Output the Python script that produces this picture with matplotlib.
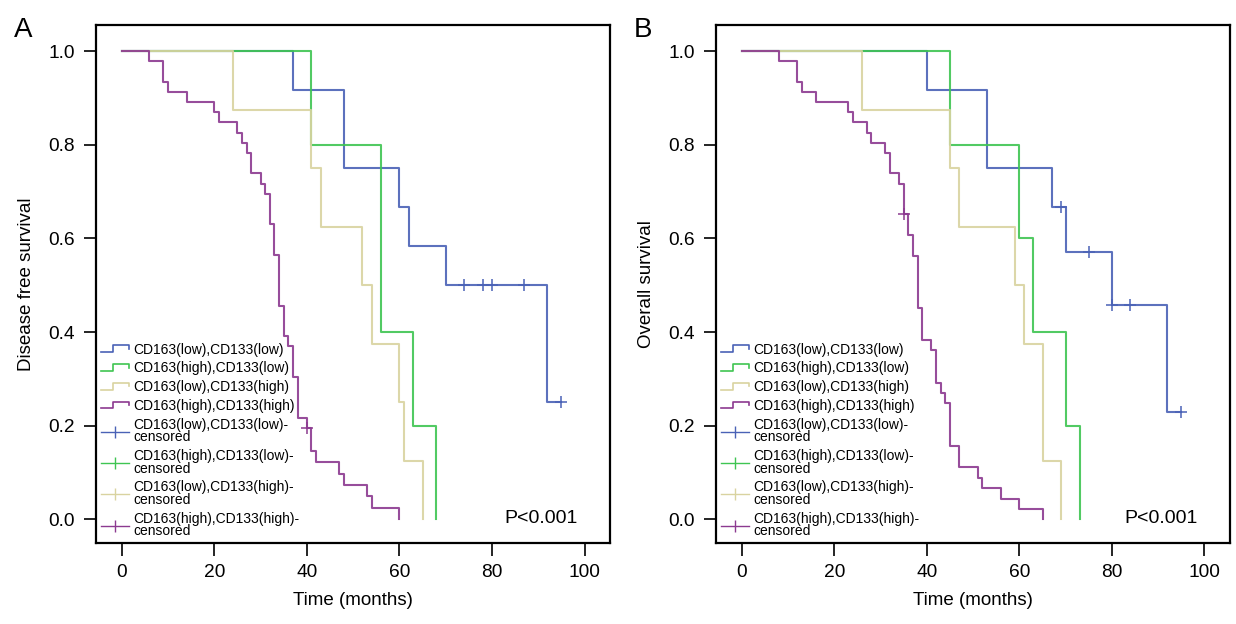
import numpy as np
import matplotlib
matplotlib.use("Agg")
import matplotlib.pyplot as plt
from matplotlib.lines import Line2D
from matplotlib.legend_handler import HandlerBase

plt.rcParams['font.family'] = ['Liberation Sans', 'DejaVu Sans']

# ---------------- data ----------------
# Panel A: disease free survival (event times in months, survival after each step)
dfs_low_low_t = [0, 37, 48, 60, 62, 70, 92]
dfs_low_low_s = [1.0, 0.917, 0.75, 0.667, 0.583, 0.50, 0.25]
dfs_low_low_c = [74, 78, 80, 87, 95]

dfs_high_low_t = [0, 41, 56, 63, 68]
dfs_high_low_s = [1.0, 0.80, 0.40, 0.20, 0.0]
dfs_high_low_c = []

dfs_low_high_t = [0, 24, 41, 43, 52, 54, 60, 61, 65]
dfs_low_high_s = [1.0, 0.875, 0.75, 0.625, 0.50, 0.375, 0.25, 0.125, 0.0]
dfs_low_high_c = []

dfs_high_high_t = [0, 6, 9, 10, 14, 20, 21, 25, 26, 27, 28, 30, 31, 32, 33, 34,
                   35, 36, 37, 38, 40, 41, 42, 47, 48, 53, 54, 60]
dfs_high_high_s = [1.0, 0.979, 0.935, 0.913, 0.891, 0.870, 0.848, 0.826, 0.804,
                   0.783, 0.739, 0.717, 0.696, 0.630, 0.565, 0.456, 0.391, 0.370,
                   0.304, 0.217, 0.196, 0.146, 0.122, 0.097, 0.073, 0.049, 0.024, 0.0]
dfs_high_high_c = [40]

# Panel B: overall survival
os_low_low_t = [0, 40, 53, 67, 70, 80, 92]
os_low_low_s = [1.0, 0.917, 0.75, 0.667, 0.572, 0.457, 0.229]
os_low_low_c = [69, 75, 80, 84, 95]

os_high_low_t = [0, 45, 60, 63, 70, 73]
os_high_low_s = [1.0, 0.80, 0.60, 0.40, 0.20, 0.0]
os_high_low_c = []

os_low_high_t = [0, 26, 45, 47, 59, 61, 65, 69]
os_low_high_s = [1.0, 0.875, 0.75, 0.625, 0.50, 0.375, 0.125, 0.0]
os_low_high_c = []

os_high_high_t = [0, 8, 12, 13, 16, 23, 24, 27, 28, 31, 32, 34, 35, 36, 37, 38,
                  39, 41, 42, 43, 44, 45, 47, 51, 52, 56, 60, 65]
os_high_high_s = [1.0, 0.979, 0.935, 0.913, 0.891, 0.870, 0.848, 0.826, 0.804,
                  0.783, 0.739, 0.717, 0.652, 0.608, 0.563, 0.452, 0.383, 0.361,
                  0.291, 0.270, 0.248, 0.157, 0.111, 0.089, 0.067, 0.044, 0.022, 0.0]
os_high_high_c = [35]

group_labels = ["CD163(low),CD133(low)", "CD163(high),CD133(low)",
                "CD163(low),CD133(high)", "CD163(high),CD133(high)"]
colors = ['#4a62b6', '#3fc552', '#d9d3a0', '#8c3a90']

panel_a = [(dfs_low_low_t, dfs_low_low_s, dfs_low_low_c),
           (dfs_high_low_t, dfs_high_low_s, dfs_high_low_c),
           (dfs_low_high_t, dfs_low_high_s, dfs_low_high_c),
           (dfs_high_high_t, dfs_high_high_s, dfs_high_high_c)]
panel_b = [(os_low_low_t, os_low_low_s, os_low_low_c),
           (os_high_low_t, os_high_low_s, os_high_low_c),
           (os_low_high_t, os_low_high_s, os_low_high_c),
           (os_high_high_t, os_high_high_s, os_high_high_c)]


# step-shaped legend icon
class StepHandler(HandlerBase):
    def create_artists(self, legend, orig_handle, xdescent, ydescent,
                       width, height, fontsize, trans):
        x0, y0 = -xdescent, -ydescent
        xs = [x0, x0 + 0.45 * width, x0 + 0.45 * width, x0 + width, x0 + width]
        ys = [y0 + 0.15 * height, y0 + 0.15 * height, y0 + 0.85 * height,
              y0 + 0.85 * height, y0 + 0.5 * height]
        ln = Line2D(xs, ys, color=orig_handle.get_color(), lw=1.2)
        ln.set_transform(trans)
        return [ln]


def draw_panel(ax, curves, ylabel, letter):
    for (t, s, c), col in zip(curves, colors):
        t = list(t)
        s = list(s)
        # extend to last censoring time if curve does not end at zero
        if c and max(c) > t[-1]:
            t.append(max(c))
            s.append(s[-1])
        ax.step(t, s, where='post', color=col, lw=1.5, alpha=0.9)
        if c:
            idx = np.searchsorted(t, c, side='right') - 1
            cy = np.array(s)[idx]
            ax.plot(c, cy, ls='none', marker='+', ms=8, mew=1.1, color=col)

    ax.set_xlim(-5.55, 105.5)
    ax.set_ylim(-0.051, 1.056)
    ax.set_xticks([0, 20, 40, 60, 80, 100])
    ax.set_yticks([0.0, 0.2, 0.4, 0.6, 0.8, 1.0])
    ax.set_yticklabels(['0.0', '0.2', '0.4', '0.6', '0.8', '1.0'])
    ax.tick_params(direction='out', length=9, width=1.2, labelsize=13.8, pad=6)
    for sp in ax.spines.values():
        sp.set_linewidth(1.6)
    ax.set_xlabel("Time (months)", fontsize=13.5, labelpad=8)
    ax.set_ylabel(ylabel, fontsize=13.5, labelpad=10)
    ax.text(0.865, 0.048, "P<0.001", transform=ax.transAxes, fontsize=14,
            ha='center', va='center')
    ax.text(-0.16, 0.99, letter, transform=ax.transAxes, fontsize=20,
            ha='left', va='center')

    step_handles = [Line2D([], [], color=col) for col in colors]
    cens_handles = [Line2D([], [], color=col, lw=1.0, marker='|', ms=9, mew=1.0)
                    for col in colors]
    labels = group_labels + [g + "-\ncensored" for g in group_labels]
    hm = {h: StepHandler() for h in step_handles}
    leg = ax.legend(step_handles + cens_handles, labels, handler_map=hm,
                    loc='lower left', bbox_to_anchor=(0.0, 0.0), frameon=False,
                    fontsize=10, handlelength=2.0, handletextpad=0.35,
                    labelspacing=0.34, borderaxespad=0.25, borderpad=0.1)
    for txt in leg.get_texts():
        txt.set_linespacing(0.88)


fig = plt.figure(figsize=(12.36, 6.24), dpi=100)
ax1 = fig.add_axes([0.0777, 0.1293, 0.4158, 0.8307])
ax2 = fig.add_axes([0.5793, 0.1293, 0.4158, 0.8307])

draw_panel(ax1, panel_a, "Disease free survival", "A")
draw_panel(ax2, panel_b, "Overall survival", "B")

fig.savefig("out.png", dpi=100)
